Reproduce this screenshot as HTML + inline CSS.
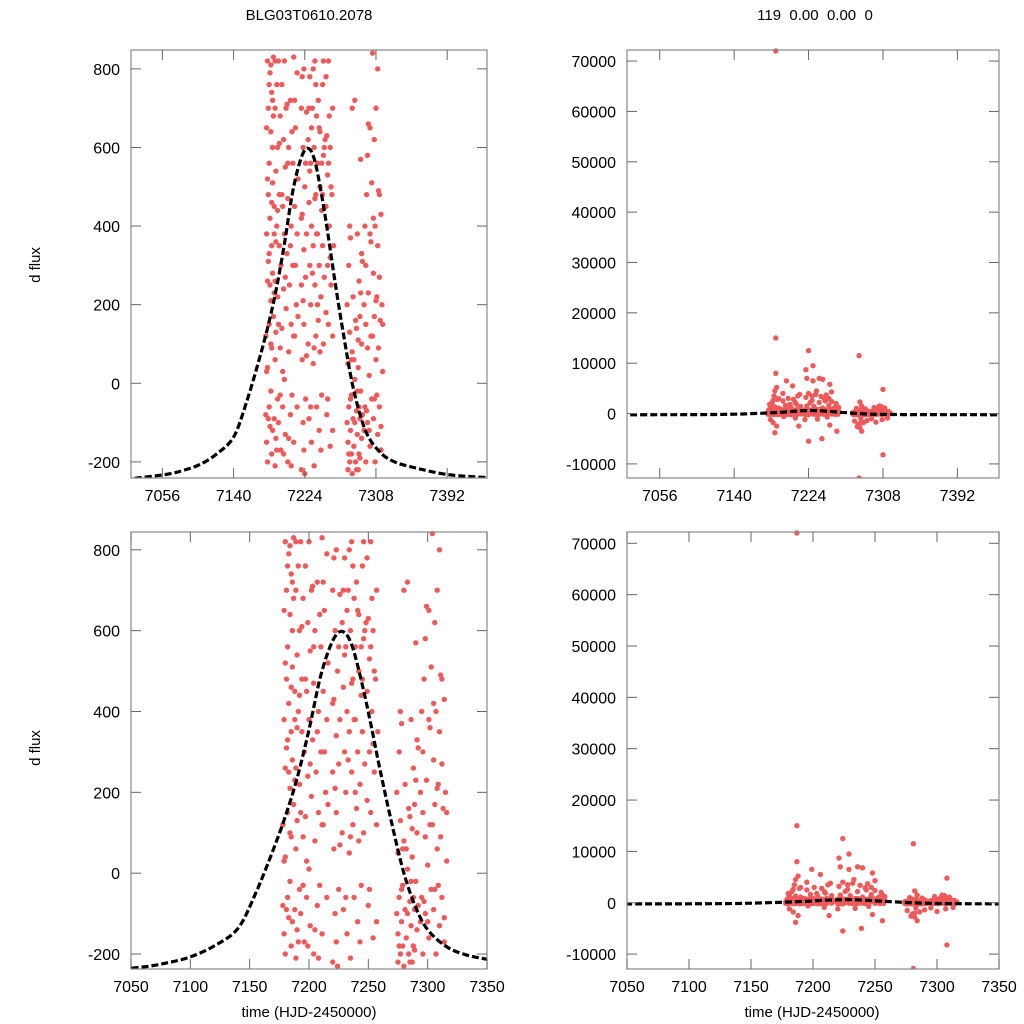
<!DOCTYPE html>
<html><head><meta charset="utf-8">
<style>
html,body{margin:0;padding:0;background:#fff;}
svg{display:block;font-family:"Liberation Sans",sans-serif;}
</style></head>
<body>
<svg id="chart" width="1024" height="1024" viewBox="0 0 1024 1024">
<text x="309" y="20" text-anchor="middle" font-size="15">BLG03T0610.2078</text>
<text x="815" y="20" text-anchor="middle" font-size="15" xml:space="preserve" style="white-space:pre">119  0.00  0.00  0</text>
<text transform="translate(40,265) rotate(-90)" text-anchor="middle" font-size="15">d flux</text>
<text transform="translate(40,748) rotate(-90)" text-anchor="middle" font-size="15">d flux</text>
<text x="309" y="1017" text-anchor="middle" font-size="15">time (HJD-2450000)</text>
<text x="812" y="1017" text-anchor="middle" font-size="15">time (HJD-2450000)</text>
</svg>
<script>
// observations (time, flux)
const t1 = [7178,7178,7179,7179,7179,7180,7180,7180,7180,7181,7181,7181,7182,7182,7182,7182,7183,7183,7183,7184,7184,7184,7184,7185,7185,7185,7185,7186,7186,7186,7186,7187,7187,7187,7187,7187,7188,7188,7188,7188,7189,7189,7189,7189,7190,7190,7190,7190,7191,7191,7192,7192,7192,7193,7193,7194,7194,7195,7195,7195,
7196,7196,7197,7197,7198,7198,7199,7199,7199,7200,7200,7200,7201,7201,7202,7202,7203,7203,7204,7204,7205,7205,7206,7206,7207,7207,7208,7208,7209,7209,7210,7210,7211,7211,7212,7212,7213,7213,7214,7214,7215,7215,7216,
7220,7220,7220,7221,7221,7221,7222,7222,7222,7223,7223,7223,7224,7224,7224,7224,7225,7225,7226,7226,
7228,7228,7228,7229,7229,7229,7229,7230,7230,7231,7231,7232,7232,7233,7233,7234,7234,7235,7235,7236,7236,7236,7237,7237,7238,7238,7239,7239,7239,7240,7240,7240,7241,7241,7242,7242,7243,7243,7244,7244,7245,7245,7246,7246,7247,7247,7248,7248,7248,7249,7249,7250,7250,7251,7251,7252,7252,7253,7254,7254,7255,7255,7256,7256,7257,7257,7258,7258,
7274,7274,7275,7275,7275,7276,7276,7277,7277,7278,7278,7279,7279,7280,7280,7281,7281,7281,7281,7282,7282,7282,7283,7283,7284,7284,7285,7285,7286,7286,7287,7287,7288,7288,7289,7289,7290,7290,7291,7291,7292,7292,
7294,7294,7295,7295,7296,7296,7297,7298,7298,7299,7299,7300,7301,7301,7302,7303,7303,7304,7304,7305,7305,7306,7306,7307,7307,7308,7308,7308,7308,7309,7310,7310,7311,7311,7312,7312,7313,7314,7314,7315,7316];
const f1 = [-80,120,650,-150,380,820,40,260,-200,700,480,1500,150,-60,560,330,790,-110,420,210,640,2600,-20,350,740,90,-180,510,280,-3800,600,72000,15000,8000,170,830,-90,450,5200,380,700,60,-210,260,540,3000,130,-140,760,400,-40,600,220,820,-100,350,480,4000,90,680,
-170,300,760,140,450,-60,6500,620,240,820,10,380,-130,550,190,700,1800,330,-200,470,600,80,5500,250,-80,720,400,150,2200,-30,560,300,830,-150,450,120,-2500,650,3800,200,-60,380,520,
700,-220,250,8700,430,60,7000,600,-100,340,800,150,12500,-5500,-230,500,270,-40,690,380,
3500,620,100,9500,6500,460,-90,780,300,200,560,-150,400,700,4500,50,350,600,-210,7000,820,250,480,120,680,-60,-5000,380,560,6800,160,720,300,-120,500,640,220,2500,440,-30,760,350,580,100,3000,270,5800,-2300,620,180,450,4300,-80,530,300,820,150,400,-160,600,2000,250,-3500,480,120,700,350,1200,
-100,200,-220,50,-150,300,-60,-200,130,370,-120,-30,-180,700,80,11500,-12800,-90,220,-2000,2300,-160,720,10,-3500,-200,140,-70,380,-130,40,-220,260,-60,170,-190,-20,570,100,-140,310,-80,
200,-120,-60,400,150,-200,480,90,-100,660,230,20,380,-160,120,-40,510,840,1500,280,-90,620,170,-200,400,4800,-8200,60,700,220,-130,350,490,90,270,-60,160,-110,430,200,30];
const t2 = [7179,7180,7181,7182,7183,7184,7185,7186,7187,7188,7189,7190,7191,7192,7193,7194,7195,7184,7181,7186,
7197,7199,7201,7203,7205,7207,7209,7211,7213,7215,7198,7204,7208,7212,7216,
7221,7222,7223,7225,7226,7220,
7229,7231,7233,7235,7237,7239,7241,7243,7245,7247,7249,7251,7253,7255,7257,7230,7234,7238,7242,7246,7250,7254,7232,7236,7244,7252,
7276,7278,7280,7282,7284,7286,7288,7290,7277,7283,7287,7289,7279,7285,7291,
7296,7298,7300,7302,7304,7306,7308,7310,7312,7314,7316,7297,7301,7305,7309];
const f2 = [30,520,-90,760,250,100,460,-120,680,230,820,360,-170,440,150,610,-30,810,310,720,
480,-180,270,710,-140,350,640,120,300,790,30,560,-210,720,170,
780,210,-170,560,70,420,
700,-60,280,90,760,200,650,-170,480,600,780,-40,680,500,-120,540,800,380,80,820,630,320,650,470,560,560,
-180,-40,-230,60,160,-20,-180,230,400,-100,110,-90,60,-220,330,
300,580,-120,360,120,-40,210,800,480,-170,150,-70,650,420,-30];
const t3 = [7180,7181,7183,7184,7185,7186,7188,7189,7190,7186,7195,7198,7201,7204,7207,7210,7212,7215,7196,7209,7221,7222,7224,7226,7220,7228,7230,7232,7234,7236,7238,7240,7242,7245,7247,7250,7253,7256,7244,7276,7278,7280,7282,7284,7286,7288,7290,7295,7298,7300,7303,7306,7307,7310,7313,7279,7283];
const f3 = [1800,-1200,2200,-1800,3500,1300,-2500,2800,1100,4500,2500,1600,3000,1200,2800,1900,3500,1400,-600,-900,3200,1500,4000,2200,-1200,2600,1400,3800,-1100,2200,3400,1100,2900,-700,1600,2400,1100,1500,3700,-1500,1000,-2200,-2800,1500,-1800,900,-1400,-1000,1200,-1700,1000,1400,-1200,1100,-900,-2600,-1000];
const t = t1.concat(t2, t3);
const f = f1.concat(f2, f3);
// model curve samples (time, flux)
const mt = [7000,7018,7060,7080,7100,7120,7140,7155,7170,7180,7190,7200,7210,7220,7228,7236,7245,7252,7260,7270,7280,7290,7300,7315,7330,7350,7392,7439];
const mf = [-246,-243,-232,-222,-207,-180,-137,-50,59,140,235,355,490,575,598,565,465,370,254,120,0,-85,-140,-180,-200,-213,-232,-240];
const ticksTopX = [7056,7140,7224,7308,7392];
const ticksBotX = [7050,7100,7150,7200,7250,7300,7350];
const ticksLeftY = [-200,0,200,400,600,800];
const ticksRightY = [-10000,0,10000,20000,30000,40000,50000,60000,70000];

const NS='http://www.w3.org/2000/svg';
const svg=document.getElementById('chart');
function mk(tag,attrs,parent){const e=document.createElementNS(NS,tag);for(const k in attrs)e.setAttribute(k,attrs[k]);(parent||svg).appendChild(e);return e;}

function panel(name,x0,x1,y0,y1,xmin,xmax,ymin,ymax,xt,yt){
  const g=mk('g',{});
  
  
  const sx=v=>x0+(v-xmin)/(xmax-xmin)*(x1-x0);
  const sy=v=>y1-(v-ymin)/(ymax-ymin)*(y1-y0);
  const cid='clip-'+name;
  const cp=mk('clipPath',{id:cid},g);
  mk('rect',{x:x0,y:y0-3,width:x1-x0,height:y1-y0+3},cp);
  const pts=mk('g',{'clip-path':'url(#'+cid+')'},g);
  
  
  for(let i=0;i<t.length;i++){
    if(f[i]>ymax+(ymax-ymin)*0.01||f[i]<ymin-(ymax-ymin)*0.01) continue;
    const c=mk('circle',{cx:sx(t[i]).toFixed(1),cy:sy(f[i]).toFixed(1),r:2.7,fill:'#ee5a5a'},pts);
    
    
  }
  const cl=mk('g',{'clip-path':'url(#'+cid+')'},g);
  const P=mt.map((v,i)=>[sx(v),sy(mf[i])]);
  let d='M'+P[0][0].toFixed(1)+','+P[0][1].toFixed(1);
  for(let i=0;i<P.length-1;i++){
    const p0=P[Math.max(0,i-1)],p1=P[i],p2=P[i+1],p3=P[Math.min(P.length-1,i+2)];
    const c1=[p1[0]+(p2[0]-p0[0])/6,p1[1]+(p2[1]-p0[1])/6];
    const c2=[p2[0]-(p3[0]-p1[0])/6,p2[1]-(p3[1]-p1[1])/6];
    d+='C'+c1[0].toFixed(1)+','+c1[1].toFixed(1)+' '+c2[0].toFixed(1)+','+c2[1].toFixed(1)+' '+p2[0].toFixed(1)+','+p2[1].toFixed(1);
  }
  const line=mk('path',{d:d,fill:'none',stroke:'#000','stroke-width':3.2,'stroke-dasharray':'7,3'},cl);
  
  
  const fr=mk('rect',{x:x0,y:y0,width:x1-x0,height:y1-y0,fill:'none',stroke:'#888','stroke-width':1.2},g);
  
  
  xt.forEach(v=>{
    const x=sx(v);
    mk('line',{x1:x,x2:x,y1:y1,y2:y1-10,stroke:'#666','stroke-width':1},g);
    mk('line',{x1:x,x2:x,y1:y0,y2:y0+10,stroke:'#666','stroke-width':1},g);
    const tx=mk('text',{x:x,y:y1+23,'text-anchor':'middle','font-size':16},g);
    tx.textContent=v;
    
    
  });
  yt.forEach(v=>{
    const y=sy(v);
    mk('line',{x1:x0,x2:x0+10,y1:y,y2:y,stroke:'#666','stroke-width':1},g);
    mk('line',{x1:x1,x2:x1-10,y1:y,y2:y,stroke:'#666','stroke-width':1},g);
    const tx=mk('text',{x:x0-11,y:y+6,'text-anchor':'end','font-size':16},g);
    tx.textContent=v;
    
    
  });
}
panel('panel-top-left',131,487,50,478,7019,7439,-241,848,ticksTopX,ticksLeftY);
panel('panel-top-right',627,999,50,478,7019,7439,-12800,72200,ticksTopX,ticksRightY);
panel('panel-bottom-left',131,487,532,969,7050,7350,-237,844,ticksBotX,ticksLeftY);
panel('panel-bottom-right',627,999,532,969,7050,7350,-12900,72200,ticksBotX,ticksRightY);
</script>
</body></html>
